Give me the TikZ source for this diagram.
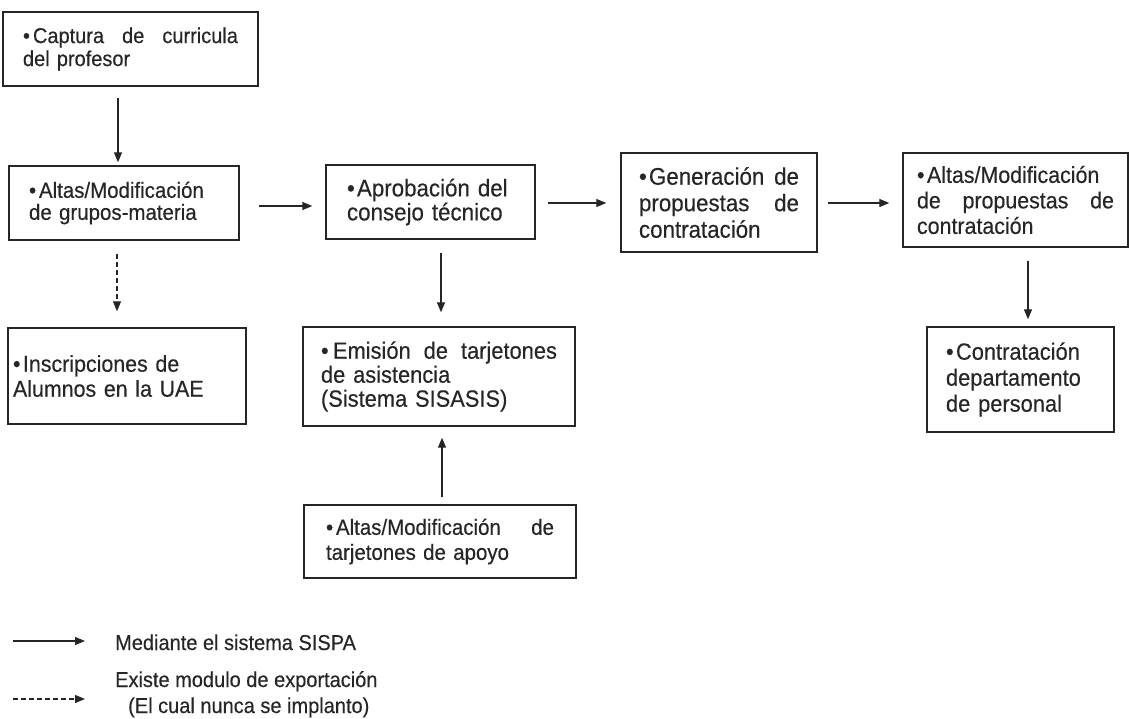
\documentclass[tikz,border=0pt]{standalone}
\usepackage{fontspec}
\setmainfont{Liberation Sans}[FakeStretch=0.93, FakeBold=0.35]
\usetikzlibrary{arrows.meta}

\definecolor{ink}{RGB}{38,38,38}
\newcommand{\fs}[2]{\fontsize{#1}{#2}\selectfont}
\newcommand{\bul}{\hangindent=10pt\hangafter=1\noindent\makebox[10pt][l]{\textbullet}}
\newcommand{\bulflat}{\noindent\makebox[12pt][l]{\textbullet}}

\tikzset{
  box/.style={draw=ink, line width=1.4pt, inner sep=0pt, text=ink},
  flow/.style={draw=ink, line width=1.2pt, -{Triangle[length=10pt,width=8pt]}},
  legend/.style={text=ink, inner sep=0pt, font=\fs{21.5}{23}}
}

\begin{document}
\begin{tikzpicture}[x=1pt, y=-1pt]
        \useasboundingbox (0,0) rectangle (1130,719);
        \node [box, minimum width=255pt, minimum height=74pt, text width=215pt, font=\fs{21.5}{23}] (cur) at (130.5,49)
          {\bul Captura\hfill de\hfill curricula\newline del profesor};
        \node [box, minimum width=230pt, minimum height=74pt, text width=190pt, font=\fs{22}{22}] (grp) at (124,203)
          {\bul Altas/Modificación\newline de grupos-materia};
        \node [box, minimum width=238pt, minimum height=96pt, text width=228pt, font=\fs{23}{25}] (ins) at (127,376)
          {\bul Inscripciones de\newline Alumnos en la UAE};
        \node [box, minimum width=209pt, minimum height=74pt, text width=167pt, font=\fs{24}{24}] (apr) at (430.5,202)
          {\bul Aprobación del\newline consejo técnico};
        \node [box, minimum width=272pt, minimum height=99pt, text width=236pt, font=\fs{23.5}{24}] (emi) at (439,376.5)
          {\bulflat Emisión\hfill de\hfill tarjetones\newline de asistencia\newline (Sistema SISASIS)};
        \node [box, minimum width=272pt, minimum height=73pt, text width=228pt, font=\fs{22}{25}] (apo) at (440,541.5)
          {\bul Altas/Modificación\hfill de\newline tarjetones de apoyo};
        \node [box, minimum width=196pt, minimum height=99pt, text width=160pt, font=\fs{24}{26.5}] (gen) at (719,202.5)
          {\bul Generación\hfill de\newline propuestas\hfill de\newline contratación};
        \node [box, minimum width=225pt, minimum height=94pt, text width=197pt, font=\fs{23}{25.5}] (alt) at (1015.5,200)
          {\bul Altas/Modificación\newline de\hfill propuestas\hfill de\newline contratación};
        \node [box, minimum width=187pt, minimum height=105pt, text width=149pt, font=\fs{23.5}{26}] (con) at (1020.5,379.5)
          {\bul Contratación\newline departamento\newline de personal};

        \draw [flow, shorten <=11pt, shorten >=3pt] ([xshift=-6pt]grp.north |- cur.south) -- ([xshift=-6pt]grp.north);
        \draw [flow, dash pattern=on 5pt off 3pt, shorten <=13pt, shorten >=16pt] ([xshift=-7pt]grp.south) -- ([xshift=-7pt]grp.south |- ins.north);
        \draw [flow, shorten <=19pt, shorten >=13pt] ([yshift=-3pt]grp.east) -- ([yshift=-3pt]grp.east -| apr.west);
        \draw [flow, shorten <=12pt, shorten >=14pt] ([yshift=-1pt]apr.east) -- ([yshift=-1pt]apr.east -| gen.west);
        \draw [flow, shorten <=10pt, shorten >=13pt] ([yshift=-0.5pt]gen.east) -- ([yshift=-0.5pt]gen.east -| alt.west);
        \draw [flow, shorten <=13pt, shorten >=14pt] ([xshift=2pt]emi.north |- apr.south) -- ([xshift=2pt]emi.north);
        \draw [flow, shorten <=7pt, shorten >=11pt] ([xshift=2pt]apo.north) -- ([xshift=2pt]apo.north |- emi.south);
        \draw [flow, shorten <=13pt, shorten >=7pt] ([xshift=7.5pt]con.north |- alt.south) -- ([xshift=7.5pt]con.north);

        \coordinate (solidA) at (13,641);
        \coordinate (solidB) at (85,641);
        \coordinate (dashA) at (13,699);
        \coordinate (dashB) at (85,699);
        \draw [flow] (solidA) -- (solidB);
        \draw [flow, dash pattern=on 5pt off 3pt] (dashA) -- (dashB);
        \node [legend, anchor=base west] (sispa) at (115,650) {Mediante el sistema SISPA};
        \node [legend, anchor=base west] (export) at (115,687) {Existe modulo de exportación};
        \node [legend, anchor=base west] (nunca) at (128,713) {(El cual nunca se implanto)};
      \end{tikzpicture}
\end{document}
